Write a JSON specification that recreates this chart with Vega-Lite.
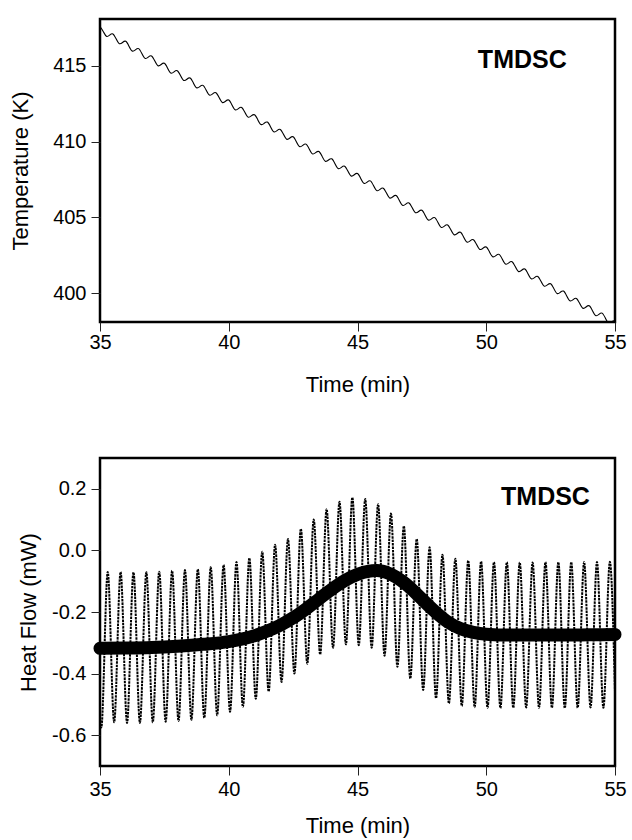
{
  "$schema": "https://vega.github.io/schema/vega-lite/v6.json",
  "background": "white",
  "padding": {"left": 8, "top": 17, "right": 8, "bottom": 0},
  "spacing": 59,
  "config": {
    "font": "Liberation Sans",
    "view": {"stroke": "black", "strokeWidth": 2.5},
    "axis": {
      "domain": false, "grid": false, "tickSize": 9, "tickColor": "#222", "tickWidth": 1,
      "labelFont": "Liberation Sans", "labelFontSize": 20, "labelColor": "black", "labelPadding": 5, "labelFlush": false,
      "titleFont": "Liberation Sans", "titleFontSize": 22, "titleFontWeight": "normal", "titleColor": "black"
    }
  },
  "datasets": {
    "temp": [
      {"t":35,"T":417.6},{"t":35.125,"T":417.279},{"t":35.25,"T":416.957},{"t":35.375,"T":417.036},
      {"t":35.5,"T":417.115},{"t":35.625,"T":416.794},{"t":35.75,"T":416.472},{"t":35.875,"T":416.551},
      {"t":36,"T":416.63},{"t":36.125,"T":416.309},{"t":36.25,"T":415.987},{"t":36.375,"T":416.066},
      {"t":36.5,"T":416.145},{"t":36.625,"T":415.824},{"t":36.75,"T":415.502},{"t":36.875,"T":415.581},
      {"t":37,"T":415.66},{"t":37.125,"T":415.339},{"t":37.25,"T":415.017},{"t":37.375,"T":415.096},
      {"t":37.5,"T":415.175},{"t":37.625,"T":414.854},{"t":37.75,"T":414.532},{"t":37.875,"T":414.611},
      {"t":38,"T":414.69},{"t":38.125,"T":414.369},{"t":38.25,"T":414.047},{"t":38.375,"T":414.126},
      {"t":38.5,"T":414.205},{"t":38.625,"T":413.884},{"t":38.75,"T":413.562},{"t":38.875,"T":413.641},
      {"t":39,"T":413.72},{"t":39.125,"T":413.399},{"t":39.25,"T":413.077},{"t":39.375,"T":413.156},
      {"t":39.5,"T":413.235},{"t":39.625,"T":412.914},{"t":39.75,"T":412.592},{"t":39.875,"T":412.671},
      {"t":40,"T":412.75},{"t":40.125,"T":412.429},{"t":40.25,"T":412.107},{"t":40.375,"T":412.186},
      {"t":40.5,"T":412.265},{"t":40.625,"T":411.944},{"t":40.75,"T":411.622},{"t":40.875,"T":411.701},
      {"t":41,"T":411.78},{"t":41.125,"T":411.459},{"t":41.25,"T":411.137},{"t":41.375,"T":411.216},
      {"t":41.5,"T":411.295},{"t":41.625,"T":410.974},{"t":41.75,"T":410.652},{"t":41.875,"T":410.731},
      {"t":42,"T":410.81},{"t":42.125,"T":410.489},{"t":42.25,"T":410.167},{"t":42.375,"T":410.246},
      {"t":42.5,"T":410.325},{"t":42.625,"T":410.004},{"t":42.75,"T":409.682},{"t":42.875,"T":409.761},
      {"t":43,"T":409.84},{"t":43.125,"T":409.519},{"t":43.25,"T":409.197},{"t":43.375,"T":409.276},
      {"t":43.5,"T":409.355},{"t":43.625,"T":409.034},{"t":43.75,"T":408.712},{"t":43.875,"T":408.791},
      {"t":44,"T":408.87},{"t":44.125,"T":408.549},{"t":44.25,"T":408.227},{"t":44.375,"T":408.306},
      {"t":44.5,"T":408.385},{"t":44.625,"T":408.064},{"t":44.75,"T":407.742},{"t":44.875,"T":407.821},
      {"t":45,"T":407.9},{"t":45.125,"T":407.579},{"t":45.25,"T":407.257},{"t":45.375,"T":407.336},
      {"t":45.5,"T":407.415},{"t":45.625,"T":407.094},{"t":45.75,"T":406.772},{"t":45.875,"T":406.851},
      {"t":46,"T":406.93},{"t":46.125,"T":406.609},{"t":46.25,"T":406.287},{"t":46.375,"T":406.366},
      {"t":46.5,"T":406.445},{"t":46.625,"T":406.124},{"t":46.75,"T":405.802},{"t":46.875,"T":405.881},
      {"t":47,"T":405.96},{"t":47.125,"T":405.639},{"t":47.25,"T":405.317},{"t":47.375,"T":405.396},
      {"t":47.5,"T":405.475},{"t":47.625,"T":405.154},{"t":47.75,"T":404.832},{"t":47.875,"T":404.911},
      {"t":48,"T":404.99},{"t":48.125,"T":404.669},{"t":48.25,"T":404.347},{"t":48.375,"T":404.426},
      {"t":48.5,"T":404.505},{"t":48.625,"T":404.184},{"t":48.75,"T":403.862},{"t":48.875,"T":403.941},
      {"t":49,"T":404.02},{"t":49.125,"T":403.699},{"t":49.25,"T":403.377},{"t":49.375,"T":403.456},
      {"t":49.5,"T":403.535},{"t":49.625,"T":403.214},{"t":49.75,"T":402.892},{"t":49.875,"T":402.971},
      {"t":50,"T":403.05},{"t":50.125,"T":402.729},{"t":50.25,"T":402.407},{"t":50.375,"T":402.486},
      {"t":50.5,"T":402.565},{"t":50.625,"T":402.244},{"t":50.75,"T":401.922},{"t":50.875,"T":402.001},
      {"t":51,"T":402.08},{"t":51.125,"T":401.759},{"t":51.25,"T":401.437},{"t":51.375,"T":401.516},
      {"t":51.5,"T":401.595},{"t":51.625,"T":401.274},{"t":51.75,"T":400.952},{"t":51.875,"T":401.031},
      {"t":52,"T":401.11},{"t":52.125,"T":400.789},{"t":52.25,"T":400.467},{"t":52.375,"T":400.546},
      {"t":52.5,"T":400.625},{"t":52.625,"T":400.304},{"t":52.75,"T":399.982},{"t":52.875,"T":400.061},
      {"t":53,"T":400.14},{"t":53.125,"T":399.819},{"t":53.25,"T":399.497},{"t":53.375,"T":399.576},
      {"t":53.5,"T":399.655},{"t":53.625,"T":399.334},{"t":53.75,"T":399.012},{"t":53.875,"T":399.091},
      {"t":54,"T":399.17},{"t":54.125,"T":398.849},{"t":54.25,"T":398.527},{"t":54.375,"T":398.606},
      {"t":54.5,"T":398.685},{"t":54.625,"T":398.364},{"t":54.75,"T":398.042},{"t":54.875,"T":398.121},
      {"t":55,"T":398.2}
    ],
    "hf": [
      {"t":35,"hf":-0.57},
      {"t":35.05,"hf":-0.575},{"t":35.3,"hf":-0.07},
      {"t":35.55,"hf":-0.558},{"t":35.8,"hf":-0.07},
      {"t":36.05,"hf":-0.56},{"t":36.3,"hf":-0.071},
      {"t":36.55,"hf":-0.56},{"t":36.8,"hf":-0.071},
      {"t":37.05,"hf":-0.558},{"t":37.3,"hf":-0.069},
      {"t":37.55,"hf":-0.556},{"t":37.8,"hf":-0.066},
      {"t":38.05,"hf":-0.554},{"t":38.3,"hf":-0.064},
      {"t":38.55,"hf":-0.55},{"t":38.8,"hf":-0.061},
      {"t":39.05,"hf":-0.544},{"t":39.3,"hf":-0.055},
      {"t":39.55,"hf":-0.535},{"t":39.8,"hf":-0.047},
      {"t":40.05,"hf":-0.524},{"t":40.3,"hf":-0.038},
      {"t":40.55,"hf":-0.508},{"t":40.8,"hf":-0.025},
      {"t":41.05,"hf":-0.482},{"t":41.3,"hf":-0.004},
      {"t":41.55,"hf":-0.458},{"t":41.8,"hf":0.018},
      {"t":42.05,"hf":-0.427},{"t":42.3,"hf":0.037},
      {"t":42.55,"hf":-0.4},{"t":42.8,"hf":0.07},
      {"t":43.05,"hf":-0.368},{"t":43.3,"hf":0.1},
      {"t":43.55,"hf":-0.338},{"t":43.8,"hf":0.134},
      {"t":44.05,"hf":-0.316},{"t":44.3,"hf":0.158},
      {"t":44.55,"hf":-0.305},{"t":44.8,"hf":0.172},
      {"t":45.05,"hf":-0.308},{"t":45.3,"hf":0.167},
      {"t":45.55,"hf":-0.316},{"t":45.8,"hf":0.15},
      {"t":46.05,"hf":-0.342},{"t":46.3,"hf":0.12},
      {"t":46.55,"hf":-0.378},{"t":46.8,"hf":0.079},
      {"t":47.05,"hf":-0.416},{"t":47.3,"hf":0.037},
      {"t":47.55,"hf":-0.453},{"t":47.8,"hf":0.01},
      {"t":48.05,"hf":-0.48},{"t":48.3,"hf":-0.014},
      {"t":48.55,"hf":-0.497},{"t":48.8,"hf":-0.027},
      {"t":49.05,"hf":-0.505},{"t":49.3,"hf":-0.033},
      {"t":49.55,"hf":-0.509},{"t":49.8,"hf":-0.036},
      {"t":50.05,"hf":-0.511},{"t":50.3,"hf":-0.038},
      {"t":50.55,"hf":-0.512},{"t":50.8,"hf":-0.038},
      {"t":51.05,"hf":-0.511},{"t":51.3,"hf":-0.039},
      {"t":51.55,"hf":-0.51},{"t":51.8,"hf":-0.039},
      {"t":52.05,"hf":-0.511},{"t":52.3,"hf":-0.038},
      {"t":52.55,"hf":-0.511},{"t":52.8,"hf":-0.038},
      {"t":53.05,"hf":-0.512},{"t":53.3,"hf":-0.038},
      {"t":53.55,"hf":-0.511},{"t":53.8,"hf":-0.038},
      {"t":54.05,"hf":-0.51},{"t":54.3,"hf":-0.038},
      {"t":54.55,"hf":-0.511},{"t":54.8,"hf":-0.037},
      {"t":55,"hf":-0.46}
    ],
    "hfmean": [
      {"t":35,"hf":-0.318},{"t":36,"hf":-0.317},{"t":37,"hf":-0.315},{"t":38,"hf":-0.311},
      {"t":39,"hf":-0.305},{"t":40,"hf":-0.296},{"t":40.5,"hf":-0.288},{"t":41,"hf":-0.277},
      {"t":41.5,"hf":-0.262},{"t":42,"hf":-0.243},{"t":42.5,"hf":-0.219},{"t":43,"hf":-0.19},
      {"t":43.5,"hf":-0.158},{"t":44,"hf":-0.126},{"t":44.5,"hf":-0.098},{"t":45,"hf":-0.078},
      {"t":45.4,"hf":-0.068},{"t":45.75,"hf":-0.065},{"t":46,"hf":-0.068},{"t":46.5,"hf":-0.087},
      {"t":47,"hf":-0.118},{"t":47.5,"hf":-0.158},{"t":48,"hf":-0.198},{"t":48.5,"hf":-0.232},
      {"t":49,"hf":-0.254},{"t":49.5,"hf":-0.266},{"t":50,"hf":-0.272},{"t":51,"hf":-0.275},
      {"t":52,"hf":-0.275},{"t":53,"hf":-0.275},{"t":54,"hf":-0.274},{"t":55,"hf":-0.273}
    ],
    "note1": [{"t":51.4,"T":415.4,"label":"TMDSC"}],
    "note2": [{"t":52.3,"hf":0.175,"label":"TMDSC"}]
  },
  "vconcat": [
    {
      "width": 515,
      "height": 303,
      "encoding": {
        "x": {"field":"t","type":"quantitative","scale":{"domain":[35,55],"nice":false},
              "axis":{"values":[35,40,45,50,55],"title":"Time (min)","labelPadding":1,"titlePadding":22}},
        "y": {"field":"T","type":"quantitative","scale":{"domain":[398.1,418.1],"nice":false,"zero":false},
              "axis":{"values":[400,405,410,415],"title":"Temperature (K)","titlePadding":20}}
      },
      "layer": [
        {"data":{"name":"temp"},"mark":{"type":"line","color":"black","strokeWidth":1.1,"interpolate":"natural","clip":true}},
        {"data":{"name":"note1"},"mark":{"type":"text","fontWeight":"bold","fontSize":25,"font":"Liberation Sans","align":"center","baseline":"middle","color":"black"},
         "encoding":{"text":{"field":"label"}}}
      ]
    },
    {
      "width": 515,
      "height": 308,
      "encoding": {
        "x": {"field":"t","type":"quantitative","scale":{"domain":[35,55],"nice":false},
              "axis":{"values":[35,40,45,50,55],"title":"Time (min)","labelPadding":4,"titlePadding":16}},
        "y": {"field":"hf","type":"quantitative","scale":{"domain":[-0.7,0.3],"nice":false,"zero":false},
              "axis":{"values":[-0.6,-0.4,-0.2,0,0.2],"title":"Heat Flow (mW)","titlePadding":11,
                      "labelExpr":"datum.value < -0.001 ? '-' + format(-datum.value, '.1f') : format(abs(datum.value), '.1f')"}}
      },
      "layer": [
        {"data":{"name":"hf"},"mark":{"type":"line","color":"black","strokeWidth":2,"strokeDash":[2.5,0.9],"interpolate":"monotone","clip":true}},
        {"data":{"name":"hfmean"},"mark":{"type":"line","color":"black","strokeWidth":13,"strokeCap":"round","strokeJoin":"round","interpolate":"monotone"}},
        {"data":{"name":"note2"},"mark":{"type":"text","fontWeight":"bold","fontSize":25,"font":"Liberation Sans","align":"center","baseline":"middle","color":"black"},
         "encoding":{"text":{"field":"label"}}}
      ]
    }
  ]
}
